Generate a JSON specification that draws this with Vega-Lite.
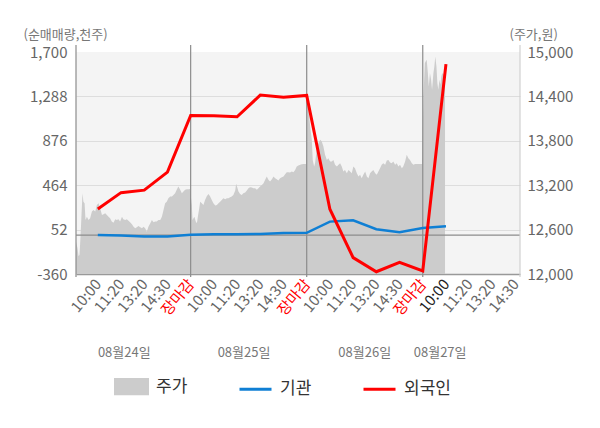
{
  "$schema": "https://vega.github.io/schema/vega-lite/v6.json",
  "width": 444,
  "height": 222,
  "autosize": "none",
  "padding": {"left": 76, "top": 52, "right": 80, "bottom": 154},
  "background": "#ffffff",
  "config": {
    "view": {"fill": "#f4f4f4", "stroke": null},
    "font": "Noto Sans CJK KR",
    "axisX": {"labelOverlap": false, "labelFlush": false, "labelBound": false, "tickCount": 40},
    "legend": {"title": null}
  },
  "datasets": {
    "price": [
      {"slot":0.06,"price":12437},{"slot":0.125,"price":12348},{"slot":0.17,"price":12244},{"slot":0.21,"price":12257},{"slot":0.255,"price":12505},{"slot":0.3,"price":12821},{"slot":0.34,"price":13092},{"slot":0.38,"price":12978},{"slot":0.43,"price":12956},{"slot":0.47,"price":12731},{"slot":0.53,"price":12775},{"slot":0.6,"price":12731},{"slot":0.67,"price":12753},{"slot":0.745,"price":12843},{"slot":0.81,"price":12866},{"slot":0.89,"price":12843},{"slot":0.96,"price":12934},{"slot":1.03,"price":12956},{"slot":1.1,"price":12889},{"slot":1.18,"price":12798},{"slot":1.245,"price":12807},{"slot":1.32,"price":12821},{"slot":1.39,"price":12798},{"slot":1.46,"price":12775},{"slot":1.53,"price":12753},{"slot":1.6,"price":12708},{"slot":1.675,"price":12694},{"slot":1.75,"price":12740},{"slot":1.82,"price":12731},{"slot":1.89,"price":12740},{"slot":1.96,"price":12708},{"slot":2.04,"price":12775},{"slot":2.1,"price":12740},{"slot":2.18,"price":12731},{"slot":2.25,"price":12740},{"slot":2.32,"price":12721},{"slot":2.39,"price":12699},{"slot":2.47,"price":12672},{"slot":2.54,"price":12640},{"slot":2.61,"price":12618},{"slot":2.68,"price":12632},{"slot":2.75,"price":12649},{"slot":2.83,"price":12632},{"slot":2.9,"price":12618},{"slot":2.97,"price":12640},{"slot":3.04,"price":12618},{"slot":3.11,"price":12572},{"slot":3.18,"price":12640},{"slot":3.26,"price":12686},{"slot":3.33,"price":12731},{"slot":3.4,"price":12699},{"slot":3.47,"price":12708},{"slot":3.54,"price":12708},{"slot":3.61,"price":12731},{"slot":3.69,"price":12731},{"slot":3.76,"price":12775},{"slot":3.83,"price":12866},{"slot":3.9,"price":12956},{"slot":3.97,"price":12978},{"slot":4.04,"price":13024},{"slot":4.12,"price":13046},{"slot":4.19,"price":13046},{"slot":4.26,"price":13069},{"slot":4.33,"price":13092},{"slot":4.4,"price":13137},{"slot":4.47,"price":13182},{"slot":4.55,"price":13137},{"slot":4.62,"price":13092},{"slot":4.69,"price":13114},{"slot":4.76,"price":13137},{"slot":4.84,"price":13146},{"slot":4.91,"price":13146},{"slot":4.97,"price":13150},
      {"slot":5.05,"price":12934},{"slot":5.08,"price":12731},{"slot":5.12,"price":12753},{"slot":5.16,"price":12775},{"slot":5.22,"price":12708},{"slot":5.27,"price":12686},{"slot":5.31,"price":12775},{"slot":5.37,"price":12889},{"slot":5.41,"price":12978},{"slot":5.48,"price":12956},{"slot":5.55,"price":12934},{"slot":5.62,"price":13001},{"slot":5.7,"price":13055},{"slot":5.77,"price":13082},{"slot":5.84,"price":13046},{"slot":5.91,"price":13001},{"slot":5.98,"price":12956},{"slot":6.06,"price":12924},{"slot":6.13,"price":12934},{"slot":6.2,"price":12956},{"slot":6.27,"price":12978},{"slot":6.34,"price":13001},{"slot":6.41,"price":13024},{"slot":6.49,"price":13011},{"slot":6.56,"price":13024},{"slot":6.63,"price":13024},{"slot":6.7,"price":13038},{"slot":6.77,"price":13046},{"slot":6.84,"price":13069},{"slot":6.92,"price":13127},{"slot":6.96,"price":13218},{"slot":7.02,"price":13160},{"slot":7.06,"price":13114},{"slot":7.13,"price":13082},{"slot":7.2,"price":13069},{"slot":7.27,"price":13092},{"slot":7.35,"price":13100},{"slot":7.42,"price":13127},{"slot":7.49,"price":13160},{"slot":7.56,"price":13173},{"slot":7.64,"price":13168},{"slot":7.7,"price":13160},{"slot":7.78,"price":13160},{"slot":7.85,"price":13137},{"slot":7.92,"price":13160},{"slot":7.99,"price":13182},{"slot":8.07,"price":13204},{"slot":8.14,"price":13227},{"slot":8.21,"price":13272},{"slot":8.28,"price":13317},{"slot":8.35,"price":13272},{"slot":8.42,"price":13249},{"slot":8.5,"price":13281},{"slot":8.57,"price":13317},{"slot":8.64,"price":13295},{"slot":8.71,"price":13281},{"slot":8.78,"price":13263},{"slot":8.85,"price":13295},{"slot":8.93,"price":13308},{"slot":9.0,"price":13317},{"slot":9.07,"price":13349},{"slot":9.14,"price":13376},{"slot":9.21,"price":13376},{"slot":9.28,"price":13371},{"slot":9.36,"price":13384},{"slot":9.43,"price":13376},{"slot":9.5,"price":13407},{"slot":9.57,"price":13452},{"slot":9.64,"price":13465},{"slot":9.72,"price":13475},{"slot":9.79,"price":13484},{"slot":9.86,"price":13488},{"slot":9.93,"price":13488},{"slot":9.98,"price":13488},
      {"slot":10.02,"price":14381},{"slot":10.08,"price":14219},{"slot":10.15,"price":13993},{"slot":10.22,"price":13813},{"slot":10.26,"price":13542},{"slot":10.32,"price":13452},{"slot":10.36,"price":13498},{"slot":10.43,"price":13678},{"slot":10.5,"price":13768},{"slot":10.58,"price":13813},{"slot":10.65,"price":13790},{"slot":10.72,"price":13722},{"slot":10.79,"price":13610},{"slot":10.87,"price":13542},{"slot":10.93,"price":13565},{"slot":11.01,"price":13519},{"slot":11.08,"price":13519},{"slot":11.15,"price":13542},{"slot":11.22,"price":13475},{"slot":11.3,"price":13452},{"slot":11.37,"price":13475},{"slot":11.44,"price":13498},{"slot":11.51,"price":13452},{"slot":11.58,"price":13384},{"slot":11.65,"price":13407},{"slot":11.73,"price":13362},{"slot":11.8,"price":13407},{"slot":11.87,"price":13384},{"slot":11.94,"price":13362},{"slot":12.01,"price":13452},{"slot":12.08,"price":13430},{"slot":12.16,"price":13362},{"slot":12.23,"price":13317},{"slot":12.3,"price":13340},{"slot":12.37,"price":13295},{"slot":12.44,"price":13340},{"slot":12.52,"price":13384},{"slot":12.59,"price":13317},{"slot":12.66,"price":13295},{"slot":12.73,"price":13362},{"slot":12.8,"price":13384},{"slot":12.87,"price":13407},{"slot":12.95,"price":13362},{"slot":13.02,"price":13340},{"slot":13.09,"price":13384},{"slot":13.16,"price":13430},{"slot":13.23,"price":13475},{"slot":13.3,"price":13498},{"slot":13.38,"price":13475},{"slot":13.45,"price":13533},{"slot":13.52,"price":13542},{"slot":13.59,"price":13506},{"slot":13.66,"price":13498},{"slot":13.73,"price":13519},{"slot":13.81,"price":13475},{"slot":13.88,"price":13498},{"slot":13.95,"price":13452},{"slot":14.02,"price":13475},{"slot":14.1,"price":13430},{"slot":14.16,"price":13452},{"slot":14.24,"price":13519},{"slot":14.31,"price":13610},{"slot":14.38,"price":13565},{"slot":14.45,"price":13542},{"slot":14.53,"price":13498},{"slot":14.6,"price":13475},{"slot":14.67,"price":13488},{"slot":14.8,"price":13488},{"slot":14.97,"price":13488},
      {"slot":15.03,"price":14399},{"slot":15.09,"price":14851},{"slot":15.17,"price":14895},{"slot":15.22,"price":14715},{"slot":15.26,"price":14534},{"slot":15.31,"price":14715},{"slot":15.36,"price":14625},{"slot":15.4,"price":14490},{"slot":15.46,"price":14715},{"slot":15.5,"price":14805},{"slot":15.54,"price":14940},{"slot":15.59,"price":14805},{"slot":15.63,"price":14580},{"slot":15.67,"price":14490},{"slot":15.72,"price":14625},{"slot":15.76,"price":14557},{"slot":15.8,"price":14670},{"slot":15.84,"price":14715},{"slot":15.89,"price":14692},{"slot":15.93,"price":14738},{"slot":15.96,"price":14760}
    ],
    "flow": [
      {"slot":1,"series":"외국인","value":244},{"slot":2,"series":"외국인","value":395},{"slot":3,"series":"외국인","value":418},{"slot":4,"series":"외국인","value":585},{"slot":5,"series":"외국인","value":1111},{"slot":6,"series":"외국인","value":1108},{"slot":7,"series":"외국인","value":1099},{"slot":8,"series":"외국인","value":1300},{"slot":9,"series":"외국인","value":1280},{"slot":10,"series":"외국인","value":1297},{"slot":11,"series":"외국인","value":241},{"slot":12,"series":"외국인","value":-208},{"slot":13,"series":"외국인","value":-339},{"slot":14,"series":"외국인","value":-251},{"slot":15,"series":"외국인","value":-332},{"slot":16,"series":"외국인","value":1588},
      {"slot":1,"series":"기관","value":2},{"slot":2,"series":"기관","value":-2},{"slot":3,"series":"기관","value":-13},{"slot":4,"series":"기관","value":-12},{"slot":5,"series":"기관","value":5},{"slot":6,"series":"기관","value":9},{"slot":7,"series":"기관","value":9},{"slot":8,"series":"기관","value":11},{"slot":9,"series":"기관","value":20},{"slot":10,"series":"기관","value":22},{"slot":11,"series":"기관","value":126},{"slot":12,"series":"기관","value":139},{"slot":13,"series":"기관","value":56},{"slot":14,"series":"기관","value":28},{"slot":15,"series":"기관","value":67},{"slot":16,"series":"기관","value":83}
    ],
    "dates": [
      {"slot":2.14,"label":"08월24일"},{"slot":7.3,"label":"08월25일"},{"slot":12.5,"label":"08월26일"},{"slot":15.75,"label":"08월27일"}
    ],
    "seps": [{"slot":0.06},{"slot":5},{"slot":10},{"slot":15}],
    "edge": [{"slot":19.19}],
    "zero": [{"value":0}]
  },
  "resolve": {"scale": {"y": "independent"}},
  "layer": [
    {
      "data": {"name": "price"},
      "mark": {"type": "area", "opacity": 1},
      "encoding": {
        "x": {
          "field": "slot", "type": "quantitative",
          "scale": {"domain": [0.06, 19.19], "nice": false, "zero": false},
          "axis": {
            "values": [1,2,3,4,5,6,7,8,9,10,11,12,13,14,15,16,17,18,19],
            "tickCount": 40,
            "labelExpr": "datum.value % 5 == 0 ? '장마감' : ['', '10:00', '11:20', '13:20', '14:30'][datum.value % 5]",
            "labelAngle": -50, "labelAlign": "right", "labelBaseline": "middle",
            "labelFontSize": 15, "labelPadding": 7,
            "labelColor": {"condition": [{"test": "datum.value % 5 == 0", "value": "#ff0000"}, {"test": "datum.value == 16", "value": "#222222"}], "value": "#666666"},
            "labelOverlap": false, "labelFlush": false, "labelBound": false,
            "ticks": false, "tickSize": 0, "grid": false,
            "domain": true, "domainColor": "#999999", "domainWidth": 1.5,
            "title": null
          }
        },
        "y": {
          "field": "price", "type": "quantitative",
          "scale": {"domain": [12000, 15000], "nice": false, "zero": false},
          "axis": {
            "orient": "right",
            "values": [12000, 12600, 13200, 13800, 14400, 15000],
            "format": ",d", "grid": false, "domain": false, "ticks": false,
            "labelFontSize": 15, "labelColor": "#666666", "labelPadding": 7,
            "title": "(주가,원)", "titleAngle": 0, "titleAlign": "left", "titleBaseline": "middle",
            "titleX": -11, "titleY": -18, "titleFontSize": 13, "titleFontWeight": "normal", "titleColor": "#777777"
          }
        },
        "y2": {"datum": 12000},
        "color": {
          "datum": "주가",
          "scale": {"domain": ["주가", "기관", "외국인"], "range": ["#cccccc", "#0f7fd4", "#ff0000"]},
          "legend": {
            "orient": "none", "legendX": 38, "legendY": 317, "direction": "horizontal", "title": null,
            "labelFontSize": 17, "labelColor": "#333333", "labelOffset": 7, "columnPadding": 45,
            "symbolSize": 1024, "symbolStrokeWidth": 3, "symbolType": "M-1,0H1",
            "encode": {
              "symbols": {
                "update": {
                  "shape": {"signal": "datum.value == '주가' ? 'M-1,-0.45H1V0.45H-1Z' : 'M-1,0H1'"},
                  "fill": {"signal": "datum.value == '주가' ? '#cccccc' : 'transparent'"},
                  "stroke": {"signal": "datum.value == '기관' ? '#0f7fd4' : (datum.value == '외국인' ? '#ff0000' : 'transparent')"},
                  "strokeWidth": {"value": 3},
                  "opacity": {"value": 1}
                }
              }
            }
          }
        }
      }
    },
    {
      "layer": [
        {
          "data": {"name": "zero"},
          "mark": {"type": "rule", "color": "#8c8c8c", "strokeWidth": 1.2},
          "encoding": {
            "y": {
              "field": "value", "type": "quantitative",
              "scale": {"domain": [-360, 1700], "nice": false, "zero": false},
              "axis": {
                "orient": "left",
                "values": [-360, 52, 464, 876, 1288, 1700],
                "labelExpr": "replace(format(datum.value, ',d'), '\u2212', '-')",
                "grid": true,
                "gridColor": {"condition": {"test": "datum.value == 1700 || datum.value == -360", "value": "transparent"}, "value": "#dddddd"},
                "gridWidth": 1.2,
                "domain": false, "ticks": false,
                "labelFontSize": 15, "labelColor": "#666666", "labelPadding": 9,
                "title": "(순매매량,천주)", "titleAngle": 0, "titleAlign": "left", "titleBaseline": "middle",
                "titleX": -53, "titleY": -18, "titleFontSize": 13, "titleFontWeight": "normal", "titleColor": "#777777"
              }
            }
          }
        },
        {
          "data": {"name": "seps"},
          "mark": {"type": "rule", "color": "#8c8c8c", "strokeWidth": 1.2},
          "encoding": {
            "x": {"field": "slot", "type": "quantitative"},
            "y": {"datum": 1765, "type": "quantitative"},
            "y2": {"datum": -388}
          }
        },
        {
          "data": {"name": "edge"},
          "mark": {"type": "rule", "color": "#d0d0d0", "strokeWidth": 1.2},
          "encoding": {
            "x": {"field": "slot", "type": "quantitative"},
            "y": {"datum": 1765, "type": "quantitative"},
            "y2": {"datum": -388}
          }
        },
        {
          "data": {"name": "flow"},
          "transform": [{"filter": "datum.series == '기관'"}],
          "mark": {"type": "line", "strokeWidth": 2.5},
          "encoding": {
            "x": {"field": "slot", "type": "quantitative"},
            "y": {"field": "value", "type": "quantitative"},
            "color": {
              "field": "series", "type": "nominal",
              "legend": {
                "orient": "none", "legendX": 38, "legendY": 317, "direction": "horizontal", "title": null,
                "labelFontSize": 17, "labelColor": "#333333", "labelOffset": 7, "columnPadding": 45,
                "symbolSize": 1024, "symbolStrokeWidth": 3, "symbolType": "M-1,0H1",
                "encode": {
                  "symbols": {
                    "update": {
                      "shape": {"signal": "datum.value == '주가' ? 'M-1,-0.45H1V0.45H-1Z' : 'M-1,0H1'"},
                      "fill": {"signal": "datum.value == '주가' ? '#cccccc' : 'transparent'"},
                      "stroke": {"signal": "datum.value == '기관' ? '#0f7fd4' : (datum.value == '외국인' ? '#ff0000' : 'transparent')"},
                      "strokeWidth": {"value": 3},
                      "opacity": {"value": 1}
                    }
                  }
                }
              }
            }
          }
        },
        {
          "data": {"name": "flow"},
          "transform": [{"filter": "datum.series == '외국인'"}],
          "mark": {"type": "line", "strokeWidth": 3},
          "encoding": {
            "x": {"field": "slot", "type": "quantitative"},
            "y": {"field": "value", "type": "quantitative"},
            "color": {
              "field": "series", "type": "nominal",
              "legend": {
                "orient": "none", "legendX": 38, "legendY": 317, "direction": "horizontal", "title": null,
                "labelFontSize": 17, "labelColor": "#333333", "labelOffset": 7, "columnPadding": 45,
                "symbolSize": 1024, "symbolStrokeWidth": 3, "symbolType": "M-1,0H1",
                "encode": {
                  "symbols": {
                    "update": {
                      "shape": {"signal": "datum.value == '주가' ? 'M-1,-0.45H1V0.45H-1Z' : 'M-1,0H1'"},
                      "fill": {"signal": "datum.value == '주가' ? '#cccccc' : 'transparent'"},
                      "stroke": {"signal": "datum.value == '기관' ? '#0f7fd4' : (datum.value == '외국인' ? '#ff0000' : 'transparent')"},
                      "strokeWidth": {"value": 3},
                      "opacity": {"value": 1}
                    }
                  }
                }
              }
            }
          }
        },
        {
          "data": {"name": "dates"},
          "mark": {"type": "text", "fontSize": 13, "color": "#777777", "baseline": "middle", "align": "center", "dy": 79},
          "encoding": {
            "x": {"field": "slot", "type": "quantitative"},
            "y": {"datum": -360, "type": "quantitative"},
            "text": {"field": "label"}
          }
        }
      ]
    }
  ]
}
